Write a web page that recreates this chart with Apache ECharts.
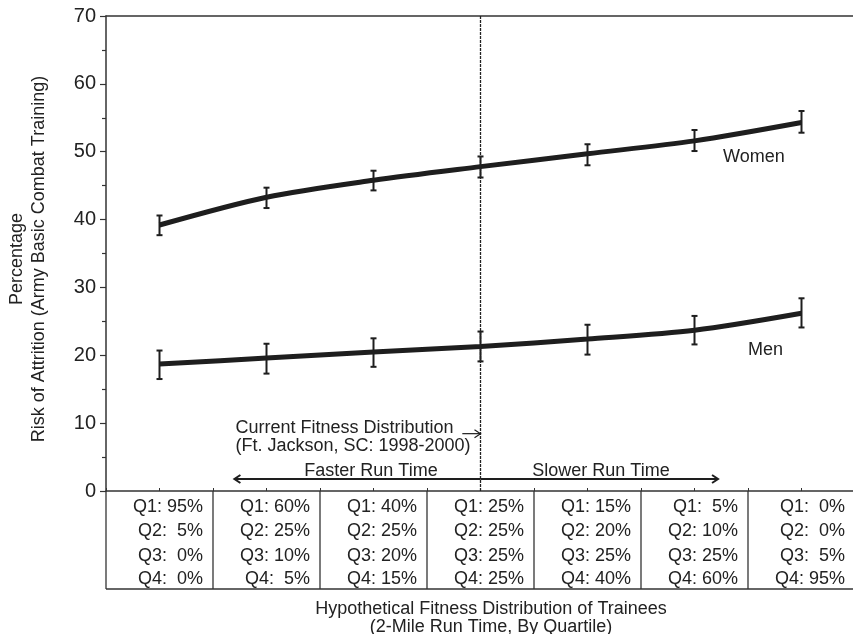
<!DOCTYPE html>
<html><head><meta charset="utf-8">
<script src="https://cdn.jsdelivr.net/npm/echarts@6/dist/echarts.min.js"></script>
<style>html,body{margin:0;padding:0;background:#fff}#c{width:853px;height:634px}</style>
</head><body><div id="c"></div>
<script>
// ---- data ----
const columns = ['Dist 1','Dist 2','Dist 3','Dist 4 (current)','Dist 5','Dist 6','Dist 7'];
const q1 = [95, 60, 40, 25, 15, 5, 0];
const q2 = [5, 25, 25, 25, 20, 10, 0];
const q3 = [0, 10, 20, 25, 25, 25, 5];
const q4 = [0, 5, 15, 25, 40, 60, 95];
const womenMean = [39.2, 43.3, 45.8, 47.8, 49.7, 51.6, 54.3];
const womenHigh = [40.6, 44.7, 47.2, 49.3, 51.1, 53.2, 56.0];
const womenLow  = [37.7, 41.7, 44.3, 46.2, 48.0, 50.1, 52.8];
const menMean = [18.7, 19.6, 20.5, 21.3, 22.4, 23.7, 26.2];
const menHigh = [20.7, 21.7, 22.5, 23.5, 24.5, 25.8, 28.4];
const menLow  = [16.5, 17.3, 18.3, 19.1, 20.1, 21.6, 24.1];
const yMin = 0, yMax = 70, yStep = 10;
const currentIndex = 3;

// ---- build ----
const FONT = 'Liberation Sans, Arial, Helvetica, sans-serif';
const INK = '#1e1e1e';
const center = i => i + 0.5;
const womenPts = columns.map((c, i) => [center(i), womenMean[i]]);
const menPts = columns.map((c, i) => [center(i), menMean[i]]);
const errData = columns.map((c, i) => [center(i), womenLow[i], womenHigh[i]])
  .concat(columns.map((c, i) => [center(i), menLow[i], menHigh[i]]));

function fmt(q, v) { return q + ':' + (v < 10 ? '  ' : ' ') + v + '%'; }

function renderErr(params, api) {
  const x = api.value(0);
  const lo = api.coord([x, api.value(1)]);
  const hi = api.coord([x, api.value(2)]);
  const w = 3;
  const st = { stroke: INK, lineWidth: 2 };
  return { type: 'group', children: [
    { type: 'line', shape: { x1: lo[0], y1: lo[1], x2: hi[0], y2: hi[1] }, style: st },
    { type: 'line', shape: { x1: lo[0] - w, y1: lo[1], x2: lo[0] + w, y2: lo[1] }, style: st },
    { type: 'line', shape: { x1: hi[0] - w, y1: hi[1], x2: hi[0] + w, y2: hi[1] }, style: st }
  ]};
}

function arrow(children, p0, p1, width) {
  const st = { stroke: INK, lineWidth: width };
  children.push({ type: 'line', shape: { x1: p0[0], y1: p0[1], x2: p1[0], y2: p1[1] }, style: st });
  const dir = Math.sign(p1[0] - p0[0]);
  const L = 6, H = 4;
  children.push({ type: 'polyline', shape: { points: [[p1[0] - dir * L, p1[1] - H], [p1[0], p1[1]], [p1[0] - dir * L, p1[1] + H]] }, style: { stroke: INK, lineWidth: width, fill: null } });
}

function renderOverlay(params, api) {
  const ch = [];
  const n = columns.length;
  const o = api.coord([0, 0]);
  const y0 = o[1];
  const bottom = y0 + 98;
  const lineSt = { stroke: '#333', lineWidth: 1.3 };
  for (let i = 0; i <= n; i++) {
    const x = api.coord([i, 0])[0];
    ch.push({ type: 'line', shape: { x1: x, y1: y0, x2: x, y2: bottom }, style: lineSt });
  }
  ch.push({ type: 'line', shape: { x1: o[0], y1: bottom, x2: api.coord([n, 0])[0], y2: bottom }, style: lineSt });
  const rows = [['Q1', q1], ['Q2', q2], ['Q3', q3], ['Q4', q4]];
  const rowOff = [16, 40.5, 65, 88.5];
  for (let i = 0; i < n; i++) {
    const xr = api.coord([i + 1, 0])[0] - 10;
    rows.forEach((r, k) => {
      ch.push({ type: 'text', style: { text: fmt(r[0], r[1][i]), x: xr, y: y0 + rowOff[k], textAlign: 'right', align: 'right', textVerticalAlign: 'middle', verticalAlign: 'middle', font: '18px ' + FONT, fill: '#222' } });
    });
  }
  // annotation arrows
  const cx = center(currentIndex);
  arrow(ch, api.coord([3.33, 8.45]), api.coord([cx, 8.45]), 1.2);
  arrow(ch, api.coord([cx, 1.77]), api.coord([1.2, 1.77]), 2);
  arrow(ch, api.coord([cx, 1.77]), api.coord([5.72, 1.77]), 2);
  return { type: 'group', children: ch };
}

const chart = echarts.init(document.getElementById('c'), null, { renderer: 'canvas' });
const txt = (text, x, y, align, extra) => Object.assign({ type: 'text', x: x, y: y, z: 10,
  style: { text: text, textAlign: align, textVerticalAlign: 'middle', font: '18px ' + FONT, fill: '#222' } }, extra || {});

chart.setOption({
  animation: false,
  backgroundColor: '#fff',
  grid: { left: 106, top: 16, width: 749, height: 475, containLabel: false, outerBoundsMode: 'none' },
  xAxis: [
    { type: 'value', min: 0, max: columns.length, interval: 0.5, position: 'bottom',
      axisLine: { show: true, onZero: false, lineStyle: { color: '#333', width: 1.5 } },
      axisTick: { show: true, inside: true, length: 3, lineStyle: { color: '#333', width: 1 } },
      axisLabel: { show: false }, splitLine: { show: false } },
    { type: 'value', min: 0, max: columns.length, position: 'top',
      axisLine: { show: true, onZero: false, lineStyle: { color: '#333', width: 1.5 } },
      axisTick: { show: false }, axisLabel: { show: false }, splitLine: { show: false } }
  ],
  yAxis: { type: 'value', min: yMin, max: yMax, interval: yStep,
    axisLine: { show: true, lineStyle: { color: '#333', width: 1.5 } },
    axisTick: { show: true, inside: false, length: 6, lineStyle: { color: '#333', width: 1.2 } },
    minorTick: { show: true, splitNumber: 2, length: 4, lineStyle: { color: '#333', width: 1.2 } },
    axisLabel: { fontSize: 20, fontFamily: FONT, color: '#222', margin: 10 },
    splitLine: { show: false } },
  series: [
    { name: 'Women', type: 'line', data: womenPts, smooth: 0.3, symbol: 'none', z: 3,
      lineStyle: { color: INK, width: 5 },
      markLine: { silent: true, symbol: 'none', label: { show: false },
        lineStyle: { color: '#222', width: 1.3, type: [3, 1] },
        data: [{ xAxis: center(currentIndex) }] } },
    { name: 'Men', type: 'line', data: menPts, smooth: 0.3, symbol: 'none', z: 3,
      lineStyle: { color: INK, width: 5 } },
    { type: 'custom', data: errData, renderItem: renderErr, z: 4, silent: true },
    { type: 'custom', data: [[0, 0]], renderItem: renderOverlay, clip: false, z: 5, silent: true }
  ],
  graphic: [
    txt('Percentage', 17.5, 259, 'center', { rotation: Math.PI / 2 }),
    txt('Risk of Attrition (Army Basic Combat Training)', 39, 259, 'center', { rotation: Math.PI / 2 }),
    txt('Women', 723, 157, 'left'),
    txt('Men', 748, 350, 'left'),
    txt('Current Fitness Distribution', 235.5, 428, 'left'),
    txt('(Ft. Jackson, SC: 1998-2000)', 235.5, 446, 'left'),
    txt('Faster Run Time', 371, 471, 'center'),
    txt('Slower Run Time', 601, 471, 'center'),
    txt('Hypothetical Fitness Distribution of Trainees', 491, 609, 'center'),
    txt('(2-Mile Run Time, By Quartile)', 491, 627, 'center')
  ]
});
</script>
</body></html>
